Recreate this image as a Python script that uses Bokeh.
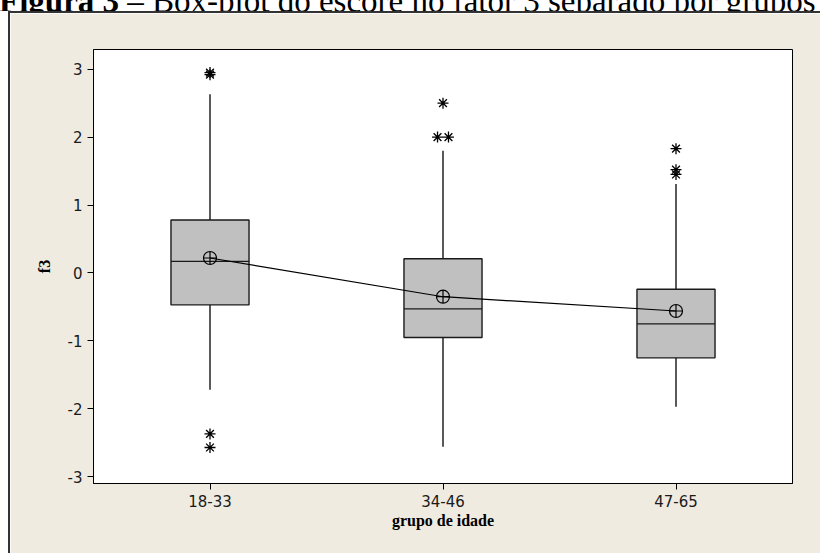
from bokeh.plotting import figure
from bokeh.models import Range1d, FixedTicker, ColumnDataSource, Div
from bokeh.layouts import column
from bokeh.embed import file_html
from bokeh.resources import INLINE

# ---- data ----
groups = ["18-33", "34-46", "47-65"]
q1 = [-0.47, -0.95, -1.25]
median = [0.17, -0.53, -0.75]
q3 = [0.78, 0.21, -0.24]
whisker_low = [-1.72, -2.56, -1.97]
whisker_high = [2.63, 1.80, 1.31]
means = [0.22, -0.35, -0.56]
outlier_group = [0, 0, 0, 0, 1, 1, 1, 2, 2, 2]
outlier_value = [2.95, 2.92, -2.37, -2.57, 2.50, 2.00, 2.00, 1.83, 1.52, 1.45]
y_ticks = [-3, -2, -1, 0, 1, 2, 3]
y_tick_labels = ["-3", "-2", "-1", "0", "1", "2", "3"]
title_bold = "Figura 3"
title_rest = " \u2013 Box-plot do escore no fator 3 separado por grupos"

xs = [i + 1 for i in range(len(groups))]
y_lo, y_hi = -3.10, 3.29

p = figure(width=810, height=540, output_backend="svg", toolbar_location=None,
           x_range=Range1d(0.5, 3.5), y_range=Range1d(y_lo, y_hi))
p.margin = (2, 0, 0, 10)
p.styles = {"outline": "2px solid #333333"}
p.min_border_left = 83
p.min_border_right = 28
p.min_border_top = 36
p.min_border_bottom = 70
p.border_fill_color = "#EFEBE1"
p.background_fill_color = "white"
p.outline_line_color = "black"
p.outline_line_width = 1
p.grid.visible = False

# boxes
bw = 0.335
src = ColumnDataSource(dict(x=xs, q1=q1, q3=q3, med=median, lo=whisker_low,
                            hi=whisker_high, mean=means,
                            l=[x - bw / 2 for x in xs], r=[x + bw / 2 for x in xs]))
p.segment(x0="x", y0="q3", x1="x", y1="hi", source=src, line_color="black", line_width=1.3)
p.segment(x0="x", y0="q1", x1="x", y1="lo", source=src, line_color="black", line_width=1.3)
p.quad(left="l", right="r", bottom="q1", top="q3", source=src,
       fill_color="#C0C0C0", line_color="#1a1a1a", line_width=1.4)
p.segment(x0="l", y0="med", x1="r", y1="med", source=src, line_color="#1a1a1a", line_width=1.3)

# mean connect line and symbols
p.line(x="x", y="mean", source=src, line_color="black", line_width=1.2)
p.scatter(x="x", y="mean", source=src, marker="circle_cross", size=13,
          fill_color=None, line_color="black", line_width=1.2)

# outliers (ties placed side by side)
ox, oy = [], []
for g, v in zip(outlier_group, outlier_value):
    ties = [i for i, (gg, vv) in enumerate(zip(outlier_group, outlier_value)) if gg == g and vv == v]
    n = len(ties)
    k = sum(1 for i in ties if i < len(ox))
    ox.append(xs[g] + (k - (n - 1) / 2) * 0.047)
    oy.append(v)
p.scatter(ox, oy, marker="asterisk", size=11, line_color="black", line_width=1.3)

# axes
for ax in (p.xaxis[0], p.yaxis[0]):
    ax.major_tick_out = 6
    ax.major_tick_in = 0
    ax.minor_tick_line_color = None
    ax.major_label_text_font = "DejaVu Sans"
    ax.major_label_text_font_size = "15px"
    ax.major_label_text_color = "#1a1a1a"
    ax.major_label_standoff = 5
    ax.axis_line_color = "black"
    ax.major_tick_line_color = "black"
    ax.axis_label_text_font = "Liberation Serif"
    ax.axis_label_text_font_style = "bold"
    ax.axis_label_text_font_size = "16px"
    ax.axis_label_text_color = "black"

p.xaxis.ticker = FixedTicker(ticks=xs)
p.xaxis.major_label_overrides = {x: g for x, g in zip(xs, groups)}
p.xaxis.axis_label = "grupo de idade"
p.xaxis.axis_label_standoff = 2
p.yaxis.ticker = FixedTicker(ticks=y_ticks)
p.yaxis.major_label_overrides = {t: s for t, s in zip(y_ticks, y_tick_labels)}
p.yaxis.axis_label = "f3"
p.yaxis.axis_label_standoff = 12

# title (cut off at the top in the reference)
title_html = (
    '<div style="margin:-20px 0 0 -1px; white-space:nowrap; '
    'font-family:\'Liberation Serif\', \'Times New Roman\', serif; '
    'font-size:33px; line-height:32px; color:black;">'
    f'<b>{title_bold}</b>{title_rest}</div>'
)
title_div = Div(text=title_html, width=820, height=11,
                styles={"overflow": "hidden"})
title_div.margin = (0, 0, 0, 0)

layout = column(title_div, p, spacing=0)
open("out.html", "w").write(file_html(layout, INLINE))
